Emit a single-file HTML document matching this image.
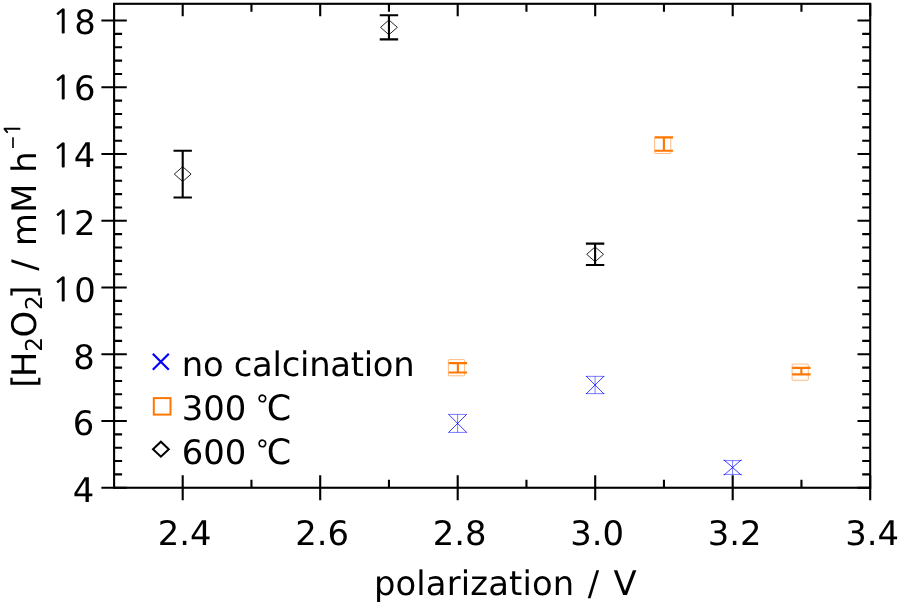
<!DOCTYPE html>
<html lang="en"><head><meta charset="utf-8"><title>H2O2 production vs polarization</title>
<style>html,body{margin:0;padding:0;background:#fff;}body{width:900px;height:605px;overflow:hidden;}svg{display:block;}text{font-family:"DejaVu Sans", "Liberation Sans", sans-serif;fill:#000;text-rendering:geometricPrecision;}</style></head><body>
<svg width="900" height="605" viewBox="0 0 900 605">
<rect x="0" y="0" width="900" height="605" fill="#fff"/>
<g stroke="#0000ff" fill="none">
<path stroke-width="0.9" opacity="0.85" d="M448.50 414.30L466.70 432.50M448.50 432.50L466.70 414.30"/>
<path stroke-width="0.7" opacity="0.75" d="M457.60 414.40V432.40M448.30 414.40H466.90M448.30 432.40H466.90"/>
<path stroke-width="0.9" opacity="0.85" d="M586.10 376.00L604.10 394.00M586.10 394.00L604.10 376.00"/>
<path stroke-width="0.7" opacity="0.75" d="M595.10 376.35V393.65M585.80 376.35H604.40M585.80 393.65H604.40"/>
<path stroke-width="0.9" opacity="0.85" d="M723.90 459.80L741.30 475.20M723.90 475.20L741.30 459.80"/>
<path stroke-width="0.7" opacity="0.75" d="M732.60 460.60V474.40M723.30 460.60H741.90M723.30 474.40H741.90"/>
</g>
<g fill="none" stroke="#ff7700">
<rect x="448.40" y="359.60" width="16.2" height="16.2" rx="0.8" stroke-width="0.8" opacity="0.62"/>
<path stroke-width="2.1" d="M457.85 363.10V372.50M448.65 363.10H467.05M448.65 372.50H467.05"/>
<rect x="654.60" y="137.30" width="16.2" height="16.2" rx="0.8" stroke-width="0.8" opacity="0.62"/>
<path stroke-width="2.1" d="M663.90 137.40V150.80M654.70 137.40H673.10M654.70 150.80H673.10"/>
<rect x="792.10" y="364.10" width="16.2" height="16.2" rx="0.8" stroke-width="0.8" opacity="0.62"/>
<path stroke-width="2.1" d="M801.35 367.85V374.35M792.15 367.85H810.55M792.15 374.35H810.55"/>
</g>
<g fill="none" stroke="#000">
<path stroke-width="1" opacity="0.85" d="M174.30 174.10L182.70 166.70L191.10 174.10L182.70 181.50Z"/>
<path stroke-width="2.1" d="M182.70 150.75V197.45M173.50 150.75H191.90M173.50 197.45H191.90"/>
<path stroke-width="1" opacity="0.85" d="M380.55 27.35L388.95 19.95L397.35 27.35L388.95 34.75Z"/>
<path stroke-width="2.1" d="M388.95 15.30V39.40M379.75 15.30H398.15M379.75 39.40H398.15"/>
<path stroke-width="1" opacity="0.85" d="M586.70 254.30L595.10 246.90L603.50 254.30L595.10 261.70Z"/>
<path stroke-width="2.1" d="M595.10 243.60V265.00M585.90 243.60H604.30M585.90 265.00H604.30"/>
</g>
<g stroke="#000" stroke-width="2.1" fill="none">
<rect x="114.10" y="3.80" width="756.10" height="483.95"/>
<path d="M182.70 475.25V500.25M182.70 3.80V16.30M251.45 479.75V487.75M251.45 3.80V11.80M320.20 475.25V500.25M320.20 3.80V16.30M388.95 479.75V487.75M388.95 3.80V11.80M457.70 475.25V500.25M457.70 3.80V16.30M526.45 479.75V487.75M526.45 3.80V11.80M595.20 475.25V500.25M595.20 3.80V16.30M663.95 479.75V487.75M663.95 3.80V11.80M732.70 475.25V500.25M732.70 3.80V16.30M801.45 479.75V487.75M801.45 3.80V11.80M870.20 475.25V500.25M870.20 3.80V16.30M101.40 487.75H126.80M857.50 487.75H870.20M114.10 474.40H122.10M862.20 474.40H870.20M114.10 461.05H122.10M862.20 461.05H870.20M114.10 447.71H122.10M862.20 447.71H870.20M114.10 434.36H122.10M862.20 434.36H870.20M101.40 421.01H126.80M857.50 421.01H870.20M114.10 407.66H122.10M862.20 407.66H870.20M114.10 394.31H122.10M862.20 394.31H870.20M114.10 380.97H122.10M862.20 380.97H870.20M114.10 367.62H122.10M862.20 367.62H870.20M101.40 354.27H126.80M857.50 354.27H870.20M114.10 340.92H122.10M862.20 340.92H870.20M114.10 327.57H122.10M862.20 327.57H870.20M114.10 314.23H122.10M862.20 314.23H870.20M114.10 300.88H122.10M862.20 300.88H870.20M101.40 287.53H126.80M857.50 287.53H870.20M114.10 274.18H122.10M862.20 274.18H870.20M114.10 260.83H122.10M862.20 260.83H870.20M114.10 247.49H122.10M862.20 247.49H870.20M114.10 234.14H122.10M862.20 234.14H870.20M101.40 220.79H126.80M857.50 220.79H870.20M114.10 207.44H122.10M862.20 207.44H870.20M114.10 194.09H122.10M862.20 194.09H870.20M114.10 180.75H122.10M862.20 180.75H870.20M114.10 167.40H122.10M862.20 167.40H870.20M101.40 154.05H126.80M857.50 154.05H870.20M114.10 140.70H122.10M862.20 140.70H870.20M114.10 127.35H122.10M862.20 127.35H870.20M114.10 114.01H122.10M862.20 114.01H870.20M114.10 100.66H122.10M862.20 100.66H870.20M101.40 87.31H126.80M857.50 87.31H870.20M114.10 73.96H122.10M862.20 73.96H870.20M114.10 60.61H122.10M862.20 60.61H870.20M114.10 47.27H122.10M862.20 47.27H870.20M114.10 33.92H122.10M862.20 33.92H870.20M101.40 20.57H126.80M857.50 20.57H870.20"/>
</g>
<g font-size="33.8">
<text x="184.70" y="545.3" text-anchor="middle">2.4</text>
<text x="322.20" y="545.3" text-anchor="middle">2.6</text>
<text x="459.70" y="545.3" text-anchor="middle">2.8</text>
<text x="597.20" y="545.3" text-anchor="middle">3.0</text>
<text x="734.70" y="545.3" text-anchor="middle">3.2</text>
<text x="872.20" y="545.3" text-anchor="middle">3.4</text>
<text x="94.20" y="502.10" text-anchor="end">4</text>
<text x="94.20" y="435.20" text-anchor="end">6</text>
<text x="94.70" y="368.70" text-anchor="end">8</text>
<text y="302.00"><tspan x="52.17" font-family="NanumGothic, 'DejaVu Sans', sans-serif" font-size="32.6" dy="-0.9" stroke="#000" stroke-width="0.6">1</tspan><tspan x="74.30" dy="0.9">0</tspan></text>
<text y="235.00"><tspan x="52.17" font-family="NanumGothic, 'DejaVu Sans', sans-serif" font-size="32.6" dy="-0.9" stroke="#000" stroke-width="0.6">1</tspan><tspan x="74.10" dy="0.9">2</tspan></text>
<text y="167.40"><tspan x="52.17" font-family="NanumGothic, 'DejaVu Sans', sans-serif" font-size="32.6" dy="-0.9" stroke="#000" stroke-width="0.6">1</tspan><tspan x="73.80" dy="0.9">4</tspan></text>
<text y="100.30"><tspan x="52.17" font-family="NanumGothic, 'DejaVu Sans', sans-serif" font-size="32.6" dy="-0.9" stroke="#000" stroke-width="0.6">1</tspan><tspan x="74.10" dy="0.9">6</tspan></text>
<text y="34.00"><tspan x="52.17" font-family="NanumGothic, 'DejaVu Sans', sans-serif" font-size="32.6" dy="-0.9" stroke="#000" stroke-width="0.6">1</tspan><tspan x="74.30" dy="0.9">8</tspan></text>
</g>
<text y="595" font-size="33.8"><tspan x="373.93" letter-spacing="0.14">polarization</tspan><tspan x="575.00"> </tspan><tspan x="587.81">/</tspan><tspan x="600.00"> </tspan><tspan x="613.45">V</tspan></text>
<text transform="translate(35.90 0) rotate(-90)"><tspan x="-387.80" y="0.00" font-size="33.8">[</tspan><tspan x="-376.96" y="0.00" font-size="33.8">H</tspan><tspan x="-351.87" y="5.80" font-size="23.2">2</tspan><tspan x="-337.40" y="0.00" font-size="33.8">O</tspan><tspan x="-309.92" y="5.80" font-size="23.2">2</tspan><tspan x="-298.63" y="0.00" font-size="33.8">]</tspan><tspan x="-287.00" y="0.00" font-size="33.8"> </tspan><tspan x="-270.64" y="0.00" font-size="33.8">/</tspan><tspan x="-259.00" y="0.00" font-size="33.8"> </tspan><tspan x="-246.01" y="0.00" font-size="33.8">m</tspan><tspan x="-212.64" y="0.00" font-size="33.8">M</tspan><tspan x="-186.00" y="0.00" font-size="33.8"> </tspan><tspan x="-172.66" y="0.00" font-size="33.8">h</tspan><tspan x="-149.55" y="-17.70" font-size="16.0" stroke="#000" stroke-width="0.5">−</tspan><tspan x="-136.12" y="-16.10" font-size="21.6" font-family="NanumGothic, 'DejaVu Sans', sans-serif" stroke="#000" stroke-width="0.5">1</tspan></text>
<path d="M152.8 353.8L168.8 369.8M152.8 369.8L168.8 353.8" stroke="#0000ff" stroke-width="2.2" fill="none"/>
<rect x="153.8" y="398.1" width="16.7" height="16.5" stroke="#ff7700" stroke-width="2" fill="none"/>
<path d="M153.0 449.2L160.9 441.7L168.8 449.2L160.9 456.7Z" stroke="#000" stroke-width="2" fill="none"/>
<text x="181.73" y="376.3" font-size="33.8" letter-spacing="-0.26">no calcination</text>
<text font-size="33.8"><tspan x="181.83" y="419.50">300 </tspan><tspan x="255.68" y="414.30" font-size="26.5">°</tspan><tspan x="266.63" y="420.10" font-size="35">C</tspan></text>
<text font-size="33.8"><tspan x="181.83" y="463.80">600 </tspan><tspan x="255.68" y="458.60" font-size="26.5">°</tspan><tspan x="266.63" y="464.40" font-size="35">C</tspan></text>
</svg></body></html>
